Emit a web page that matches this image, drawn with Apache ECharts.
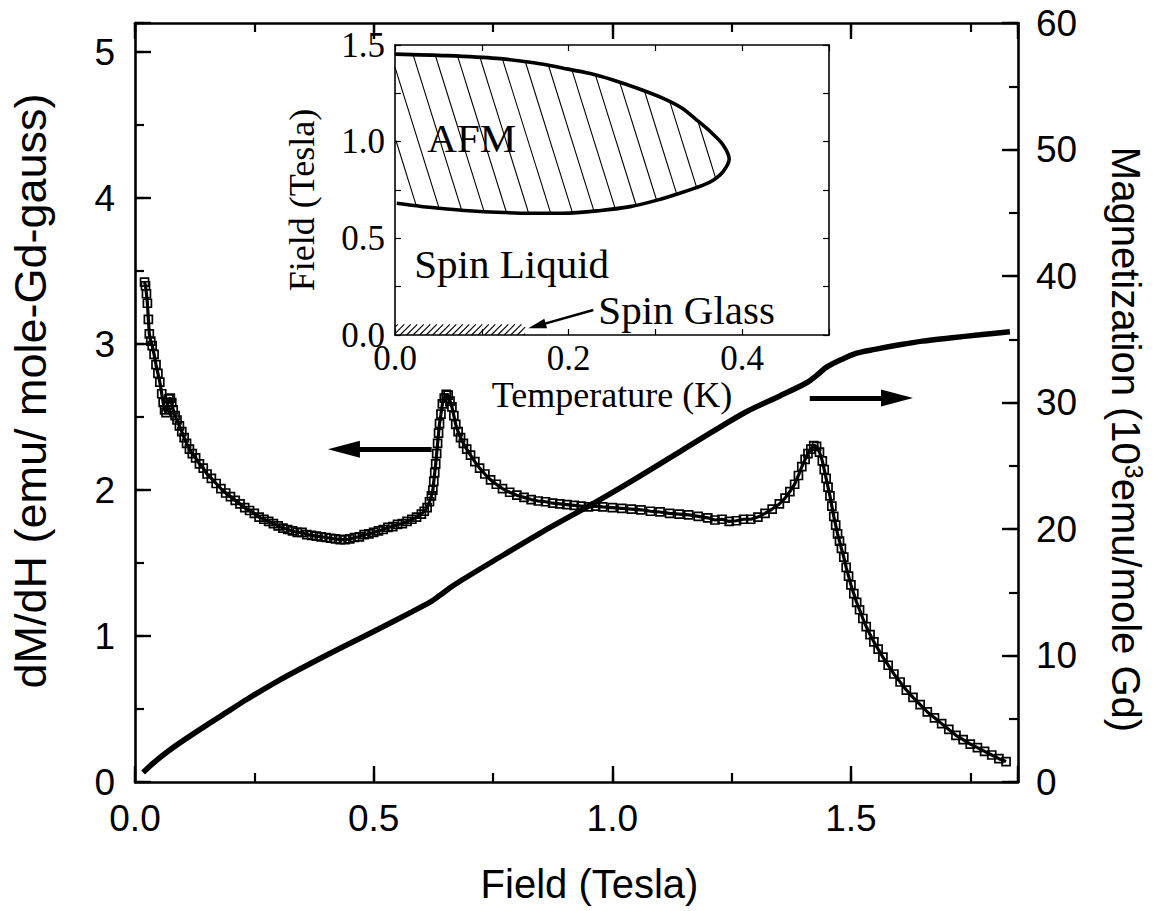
<!DOCTYPE html>
<html><head><meta charset="utf-8">
<script src="https://cdn.jsdelivr.net/npm/echarts/dist/echarts.min.js"></script>
<style>html,body{margin:0;padding:0;background:#fff}#c{width:1161px;height:911px}</style>
</head><body><div id="c"></div>
<script>
// ---- main panel: dM/dH (left axis) ----
const fieldX = [0.020,0.022,0.024,0.026,0.028,0.030,0.033,0.036,0.040,0.044,0.048,0.052,0.056,0.059,0.062,0.065,0.068,0.071,0.074,0.077,0.080,0.084,0.088,0.093,0.098,0.103,0.108,0.114,0.120,0.127,0.135,0.143,0.151,0.160,0.170,0.180,0.190,0.200,0.210,0.220,0.230,0.240,0.250,0.260,0.270,0.280,0.290,0.300,0.310,0.320,0.330,0.340,0.350,0.360,0.370,0.380,0.390,0.400,0.410,0.420,0.430,0.440,0.450,0.460,0.470,0.480,0.490,0.500,0.510,0.520,0.530,0.540,0.550,0.560,0.570,0.580,0.590,0.600,0.606,0.612,0.617,0.621,0.624,0.626,0.628,0.630,0.632,0.634,0.636,0.638,0.641,0.644,0.648,0.652,0.656,0.660,0.664,0.668,0.672,0.677,0.682,0.688,0.695,0.703,0.712,0.722,0.733,0.745,0.757,0.770,0.785,0.800,0.815,0.830,0.845,0.860,0.875,0.890,0.905,0.920,0.935,0.950,0.965,0.980,1.000,1.020,1.040,1.060,1.080,1.100,1.120,1.140,1.160,1.180,1.200,1.215,1.230,1.245,1.260,1.275,1.290,1.305,1.320,1.335,1.350,1.362,1.372,1.382,1.390,1.397,1.404,1.410,1.416,1.422,1.428,1.434,1.440,1.444,1.448,1.452,1.456,1.460,1.464,1.468,1.472,1.476,1.480,1.485,1.490,1.495,1.500,1.506,1.512,1.518,1.525,1.532,1.540,1.548,1.557,1.567,1.578,1.590,1.603,1.616,1.630,1.645,1.660,1.675,1.690,1.705,1.720,1.735,1.750,1.765,1.780,1.795,1.810,1.825];
const dMdH = [3.425,3.40,3.345,3.28,3.17,3.07,3.02,2.99,2.93,2.86,2.80,2.74,2.66,2.60,2.55,2.53,2.58,2.625,2.63,2.60,2.55,2.51,2.48,2.44,2.40,2.36,2.32,2.28,2.25,2.22,2.18,2.15,2.11,2.08,2.045,2.01,1.98,1.955,1.93,1.905,1.88,1.86,1.84,1.815,1.80,1.785,1.77,1.755,1.74,1.73,1.72,1.71,1.71,1.695,1.69,1.685,1.68,1.675,1.67,1.665,1.66,1.66,1.665,1.675,1.68,1.695,1.70,1.71,1.72,1.73,1.745,1.75,1.765,1.77,1.785,1.80,1.815,1.835,1.855,1.88,1.92,1.96,2.00,2.06,2.12,2.18,2.25,2.32,2.39,2.455,2.52,2.59,2.63,2.655,2.65,2.61,2.57,2.51,2.45,2.40,2.36,2.32,2.28,2.24,2.195,2.15,2.11,2.07,2.04,2.01,1.985,1.965,1.95,1.935,1.925,1.92,1.91,1.905,1.90,1.895,1.89,1.885,1.89,1.885,1.88,1.875,1.87,1.865,1.855,1.85,1.84,1.835,1.83,1.82,1.81,1.795,1.80,1.785,1.79,1.80,1.80,1.815,1.84,1.87,1.905,1.945,1.99,2.04,2.10,2.16,2.21,2.25,2.28,2.305,2.30,2.26,2.20,2.14,2.08,2.02,1.96,1.89,1.82,1.76,1.70,1.65,1.60,1.54,1.47,1.41,1.35,1.29,1.23,1.18,1.12,1.065,1.01,0.96,0.91,0.855,0.80,0.74,0.685,0.63,0.58,0.53,0.48,0.44,0.40,0.36,0.32,0.29,0.26,0.235,0.21,0.185,0.16,0.14];
// ---- main panel: Magnetization (right axis) ----
const magX = [0.017,0.04,0.07,0.10,0.15,0.20,0.233,0.30,0.40,0.50,0.58,0.62,0.638,0.66,0.68,0.75,0.85,0.967,1.05,1.141,1.21,1.281,1.35,1.407,1.43,1.449,1.48,1.512,1.55,1.602,1.65,1.707,1.77,1.833];
const magM = [0.75,1.55,2.45,3.25,4.5,5.7,6.5,8.0,10.0,11.9,13.45,14.25,14.74,15.35,15.85,17.45,19.7,22.16,24.0,26.1,27.7,29.27,30.5,31.56,32.2,32.8,33.4,33.9,34.2,34.56,34.85,35.1,35.35,35.6];
// arrows in main panel (dM/dH units)
const arrowLeft = [[0.6215,2.279],[0.4377,2.279]];
const arrowRight = [[1.4137,2.63],[1.5965,2.63]];
// ---- inset: phase diagram ----
const afmT = [0,0.06,0.117,0.16,0.194,0.225,0.251,0.28,0.309,0.33,0.3476,0.365,0.378,0.385,0.378,0.367,0.355,0.328,0.30,0.271,0.235,0.194,0.155,0.117,0.085,0.06,0.03,0.002];
const afmH = [1.453,1.445,1.431,1.408,1.38,1.352,1.319,1.275,1.224,1.175,1.112,1.045,0.983,0.91,0.845,0.802,0.775,0.733,0.695,0.664,0.643,0.630,0.630,0.635,0.643,0.652,0.665,0.681];
const glassT = [0,0.15];
const glassH = [0,0.055];
const glassArrow = [[0.2285,0.129],[0.1636,0.047]];
const regionNames = ['AFM','Spin Liquid','Spin Glass'];
const regionT = [0.0884,0.1344,0.336];
const regionH = [1.02,0.365,0.127];

const SANS = 'Liberation Sans, Arial, sans-serif';
const SERIF = 'Liberation Serif, Times New Roman, serif';
const zip = (a,b)=>a.map((v,i)=>[v,b[i]]);

function clipLines(poly, dir, spacing){
  const L = Math.hypot(dir[0],dir[1]);
  const d = [dir[0]/L, dir[1]/L];
  const n = [-d[1], d[0]];
  const s = poly.map(p=>p[0]*n[0]+p[1]*n[1]);
  const smin = Math.min(...s), smax = Math.max(...s);
  const segs = [];
  for (let c = Math.ceil(smin/spacing)*spacing + 0.01; c < smax; c += spacing){
    const hits = [];
    for (let i=0;i<poly.length;i++){
      const j=(i+1)%poly.length;
      const a=s[i]-c, b=s[j]-c;
      if ((a<0)!==(b<0)){
        const t=a/(a-b);
        const x=poly[i][0]+t*(poly[j][0]-poly[i][0]);
        const y=poly[i][1]+t*(poly[j][1]-poly[i][1]);
        hits.push([x,y,x*d[0]+y*d[1]]);
      }
    }
    hits.sort((u,v)=>u[2]-v[2]);
    for (let k=0;k+1<hits.length;k+=2) segs.push([hits[k],hits[k+1]]);
  }
  return segs;
}

const tickMajor = 16, tickMinor = 9;
const mainLine = {show:true, onZero:false, lineStyle:{color:'#000', width:2.6}};
const noLine = {show:false, onZero:false};
const majTick = {inside:true, length:tickMajor, lineStyle:{color:'#000', width:2.4}};
const minTick = {inside:true, length:tickMinor, lineStyle:{color:'#000', width:2.2}};
const insetLine = {show:true, onZero:false, lineStyle:{color:'#000', width:1.6}};
const insetTick = {inside:true, length:6, lineStyle:{color:'#000', width:1.2}};
function mk(extra){ return Object.assign({type:'value', splitLine:{show:false}}, extra); }

const chart = echarts.init(document.getElementById('c'), null, {renderer:'svg'});
chart.setOption({
  animation:false,
  backgroundColor:'#fff',
  textStyle:{fontFamily:SANS, color:'#000'},
  grid:[
    {left:135, top:23, width:883, height:759, containLabel:false, outerBoundsMode:'none'},
    {left:395, top:45, width:434, height:290, containLabel:false, outerBoundsMode:'none'},
    {left:135, top:23, width:883, height:759, containLabel:false, outerBoundsMode:'none'}
  ],
  xAxis:[
    mk({gridIndex:0, position:'bottom', min:0, max:1.85, interval:0.5,
      axisLine:mainLine, axisTick:majTick,
      axisLabel:{color:'#000', fontSize:37, fontFamily:SANS, margin:18,
        formatter:v=>Math.abs(v*2-Math.round(v*2))<1e-6 ? v.toFixed(1) : ''},
      name:'Field (Tesla)', nameLocation:'middle', nameGap:82,
      nameTextStyle:{fontSize:40, fontFamily:SANS, color:'#000', padding:[0,0,0,26]}}),
    mk({gridIndex:0, position:'top', min:0, max:1.85, interval:0.5,
      axisLine:mainLine, axisTick:majTick, axisLabel:{show:false}}),
    mk({gridIndex:2, position:'bottom', min:0, max:1.85, interval:0.25,
      axisLine:noLine, axisTick:minTick, axisLabel:{show:false}}),
    mk({gridIndex:2, position:'top', min:0, max:1.85, interval:0.25,
      axisLine:noLine, axisTick:minTick, axisLabel:{show:false}}),
    mk({gridIndex:1, position:'bottom', min:0, max:0.5, interval:0.1,
      axisLine:insetLine, axisTick:insetTick,
      axisLabel:{color:'#000', fontSize:35, fontFamily:SERIF, margin:6,
        formatter:v=>{const k=Math.round(v*10); return k%2===0 ? (k/10).toFixed(1) : '';}},
      name:'Temperature (K)', nameLocation:'middle', nameGap:40,
      nameTextStyle:{fontSize:36, fontFamily:SERIF, color:'#000'}}),
    mk({gridIndex:1, position:'top', min:0, max:0.5, interval:0.1,
      axisLine:insetLine, axisTick:insetTick, axisLabel:{show:false}})
  ],
  yAxis:[
    mk({gridIndex:0, position:'left', min:0, max:5.2, interval:1,
      axisLine:mainLine, axisTick:majTick,
      axisLabel:{color:'#000', fontSize:37, fontFamily:SANS, margin:20,
        formatter:v=>Math.abs(v-Math.round(v))<1e-6 ? String(Math.round(v)) : ''},
      name:'dM/dH (emu/ mole-Gd-gauss)', nameLocation:'middle', nameGap:82,
      nameTextStyle:{fontSize:45, fontFamily:SANS, color:'#000', padding:[0,0,0,23]}}),
    mk({gridIndex:0, position:'right', min:0, max:60, interval:10,
      axisLine:mainLine, axisTick:majTick,
      axisLabel:{color:'#000', fontSize:37, fontFamily:SANS, margin:18},
      name:'Magnetization (10{sup|3}emu/mole Gd)', nameLocation:'middle', nameGap:88, nameRotate:-90,
      nameTextStyle:{fontSize:40, fontFamily:SANS, color:'#000', padding:[0,0,0,74],
        rich:{sup:{fontSize:25, fontFamily:SANS, color:'#000', verticalAlign:'top'}}}}),
    mk({gridIndex:2, position:'left', min:0, max:5.2, interval:0.5,
      axisLine:noLine, axisTick:minTick, axisLabel:{show:false}}),
    mk({gridIndex:2, position:'right', min:0, max:60, interval:5,
      axisLine:noLine, axisTick:minTick, axisLabel:{show:false}}),
    mk({gridIndex:1, position:'left', min:0, max:1.5, interval:0.25,
      axisLine:insetLine, axisTick:insetTick,
      axisLabel:{color:'#000', fontSize:35, fontFamily:SERIF, margin:10,
        formatter:v=>{const k=Math.round(v*4); return k%2===0 ? (k/4).toFixed(1) : '';}},
      name:'Field (Tesla)', nameLocation:'middle', nameGap:75,
      nameTextStyle:{fontSize:36, fontFamily:SERIF, color:'#000', padding:[0,20,0,0]}}),
    mk({gridIndex:1, position:'right', min:0, max:1.5, interval:0.25,
      axisLine:insetLine, axisTick:insetTick, axisLabel:{show:false}})
  ],
  series:[
    {type:'line', xAxisIndex:0, yAxisIndex:0, data:zip(fieldX,dMdH), symbol:'rect', symbolSize:8, showSymbol:true,
      lineStyle:{color:'#000', width:3.2}, itemStyle:{color:'rgba(0,0,0,0)', borderColor:'#000', borderWidth:1.7, opacity:1}, silent:true,
      markLine:{silent:true, animation:false, symbol:['none','triangle'], symbolSize:[17,32],
        lineStyle:{color:'#000', width:5, type:'solid'}, label:{show:false}, emphasis:{disabled:true},
        data:[[{coord:arrowLeft[0]},{coord:arrowLeft[1]}],[{coord:arrowRight[0]},{coord:arrowRight[1]}]]}},
    {type:'line', xAxisIndex:0, yAxisIndex:1, data:zip(magX,magM), showSymbol:false, symbol:'none', smooth:0.3,
      lineStyle:{color:'#000', width:5.5}, silent:true},
    {type:'custom', xAxisIndex:4, yAxisIndex:4, data:[[0,0]], silent:true, clip:false,
      renderItem:(params, api)=>{
        const poly = afmT.map((t,i)=>api.coord([t, afmH[i]]));
        const rect = [api.coord([glassT[0],glassH[0]]), api.coord([glassT[1],glassH[0]]), api.coord([glassT[1],glassH[1]]), api.coord([glassT[0],glassH[1]])];
        const kids = [];
        clipLines(poly,[1,3.2],21).forEach(s=>kids.push({type:'line', shape:{x1:s[0][0],y1:s[0][1],x2:s[1][0],y2:s[1][1]}, style:{stroke:'#000', lineWidth:1.1}}));
        clipLines(rect,[1,-1],4.6).forEach(s=>kids.push({type:'line', shape:{x1:s[0][0],y1:s[0][1],x2:s[1][0],y2:s[1][1]}, style:{stroke:'#000', lineWidth:1.1}}));
        return {type:'group', children:kids};
      }},
    {type:'line', xAxisIndex:4, yAxisIndex:4, data:zip(afmT,afmH), showSymbol:false, symbol:'none', smooth:0.3,
      lineStyle:{color:'#000', width:3.6}, silent:true,
      markLine:{silent:true, animation:false, symbol:['none','triangle'], symbolSize:[10,18],
        lineStyle:{color:'#000', width:2.5, type:'solid'}, label:{show:false}, emphasis:{disabled:true},
        data:[[{coord:glassArrow[0]},{coord:glassArrow[1]}]]}},
    {type:'scatter', xAxisIndex:4, yAxisIndex:4, silent:true, symbol:'circle', symbolSize:1,
      itemStyle:{color:'rgba(0,0,0,0)', opacity:1},
      data:regionNames.map((n,i)=>({name:n, value:[regionT[i], regionH[i]]})),
      label:{show:true, position:'inside', formatter:'{b}', fontFamily:SERIF, fontSize:41, color:'#000', opacity:1, textBorderWidth:0}}
  ]
});
</script></body></html>
